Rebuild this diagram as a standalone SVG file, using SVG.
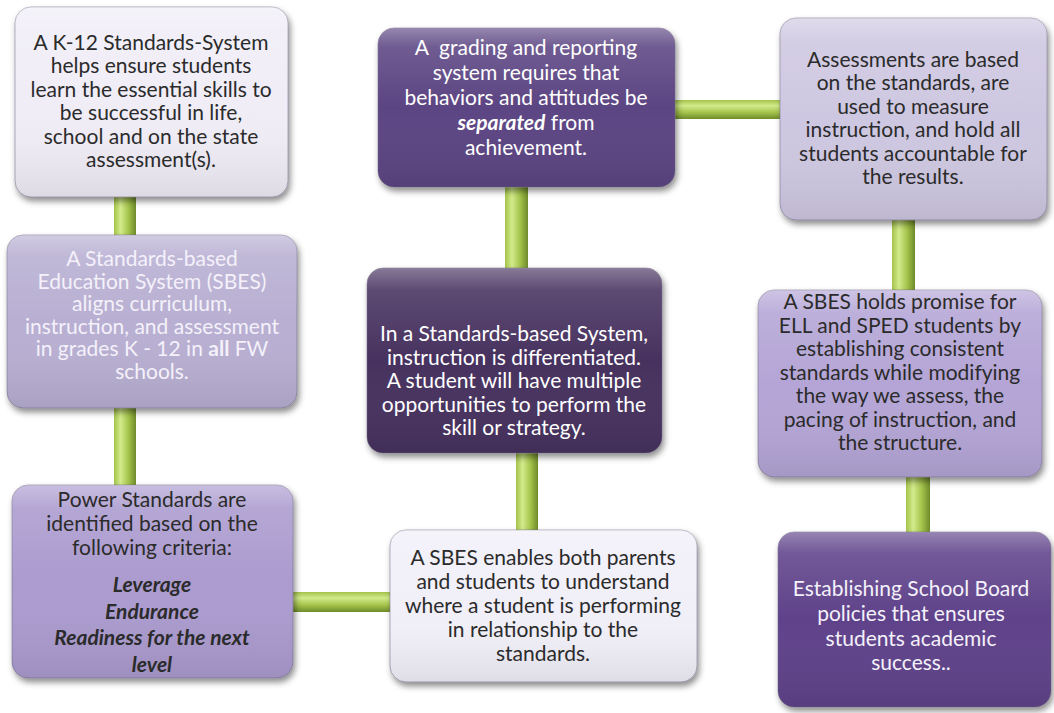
<svg xmlns="http://www.w3.org/2000/svg" width="1054" height="713" viewBox="0 0 1054 713">
<defs>
<linearGradient id="gv" x1="0" y1="0" x2="1" y2="0">
<stop offset="0" stop-color="#a3c34a"/><stop offset="0.3" stop-color="#d3eb8c"/><stop offset="0.65" stop-color="#a5c54c"/><stop offset="1" stop-color="#6e8b2b"/>
</linearGradient>
<linearGradient id="gh" x1="0" y1="0" x2="0" y2="1">
<stop offset="0" stop-color="#a3c34a"/><stop offset="0.3" stop-color="#d3eb8c"/><stop offset="0.65" stop-color="#a5c54c"/><stop offset="1" stop-color="#6e8b2b"/>
</linearGradient>
<linearGradient id="gloss" x1="0" y1="0" x2="0" y2="1">
<stop offset="0" stop-color="#ffffff" stop-opacity="0.35"/><stop offset="0.12" stop-color="#ffffff" stop-opacity="0.12"/><stop offset="0.5" stop-color="#ffffff" stop-opacity="0"/><stop offset="1" stop-color="#000000" stop-opacity="0.08"/>
</linearGradient>
<filter id="sh" x="-10%" y="-10%" width="125%" height="130%">
<feDropShadow dx="2" dy="4" stdDeviation="3" flood-color="#000" flood-opacity="0.45"/>
</filter>
</defs>
<style>
.box{filter:url(#sh);stroke:#6d6680;stroke-width:1;stroke-opacity:0.5}
.gl{fill:url(#gloss)}
text{font-family:Lato,"Liberation Sans",sans-serif;font-size:21px;text-anchor:middle}
.dk{fill:#2b2b2b}
.wt{fill:#ffffff}
.pl{fill:#f4f1fa}
</style>
<rect width="1054" height="713" fill="#ffffff"/>
<g id="connectors">
<rect x="114" y="190" width="22" height="50" fill="url(#gv)"/>
<rect x="114" y="400" width="22" height="90" fill="url(#gv)"/>
<rect x="288" y="592" width="106" height="20" fill="url(#gh)"/>
<rect x="516" y="448" width="22" height="86" fill="url(#gv)"/>
<rect x="505" y="182" width="23" height="90" fill="url(#gv)"/>
<rect x="670" y="100" width="114" height="19" fill="url(#gh)"/>
<rect x="892" y="214" width="23" height="80" fill="url(#gv)"/>
<rect x="906" y="470" width="24" height="66" fill="url(#gv)"/>
</g>
<g id="n1">
<rect class="box" x="15" y="7" width="273" height="190" rx="16" fill="#f0edf7"/>
<rect class="gl" x="15" y="7" width="273" height="190" rx="16"/>
<text class="dk" font-size="21.4"><tspan x="151" y="50">A K-12 Standards-System</tspan><tspan x="151" y="73.4">helps ensure students</tspan><tspan x="151" y="96.8">learn the essential skills to</tspan><tspan x="151" y="120.2">be successful in life,</tspan><tspan x="151" y="143.6">school and on the state</tspan><tspan x="151" y="167">assessment(s).</tspan></text>
</g>
<g id="n2">
<rect class="box" x="7" y="235" width="290" height="173" rx="16" fill="#b8afd2"/>
<rect class="gl" x="7" y="235" width="290" height="173" rx="16"/>
<text class="pl" font-size="21"><tspan x="152" y="266">A Standards-based</tspan><tspan x="152" y="288.6">Education System (SBES)</tspan><tspan x="152" y="311.2">aligns curriculum,</tspan><tspan x="152" y="333.8">instruction, and assessment</tspan><tspan x="152" y="356.4">in grades K - 12 in <tspan font-weight="bold">all</tspan> FW</tspan><tspan x="152" y="379">schools.</tspan></text>
</g>
<g id="n3">
<rect class="box" x="12" y="485" width="281" height="193" rx="16" fill="#ab9bcf"/>
<rect class="gl" x="12" y="485" width="281" height="193" rx="16"/>
<text class="dk" font-size="21.3"><tspan x="152" y="507">Power Standards are</tspan><tspan x="152" y="531">identified based on the</tspan><tspan x="152" y="555">following criteria:</tspan></text>
<text class="dk" font-size="23" font-weight="bold" font-style="italic"><tspan x="152" y="592">Leverage</tspan><tspan x="152" y="618.5">Endurance</tspan><tspan x="152" y="645">Readiness for the next</tspan><tspan x="152" y="671.5">level</tspan></text>
</g>
<g id="n4">
<rect class="box" x="390" y="530" width="307" height="152" rx="16" fill="#f1eff8"/>
<rect class="gl" x="390" y="530" width="307" height="152" rx="16"/>
<text class="dk" font-size="21.3"><tspan x="543" y="565">A SBES enables both parents</tspan><tspan x="543" y="589">and students to understand</tspan><tspan x="543" y="613">where a student is performing</tspan><tspan x="543" y="637">in relationship to the</tspan><tspan x="543" y="661">standards.</tspan></text>
</g>
<g id="n5">
<rect class="box" x="367" y="268" width="295" height="185" rx="16" fill="#46315f"/>
<rect class="gl" x="367" y="268" width="295" height="185" rx="16"/>
<text class="wt" font-size="21.8"><tspan x="514" y="341">In a Standards-based System,</tspan><tspan x="514" y="364.5">instruction is differentiated.</tspan><tspan x="514" y="388">A student will have multiple</tspan><tspan x="514" y="411.5">opportunities to perform the</tspan><tspan x="514" y="435">skill or strategy.</tspan></text>
</g>
<g id="n6">
<rect class="box" x="378" y="28" width="297" height="159" rx="16" fill="#5c4483"/>
<rect class="gl" x="378" y="28" width="297" height="159" rx="16"/>
<text class="wt" font-size="22.8"><tspan x="526" y="55" style="white-space:pre">A  grading and reporting</tspan><tspan x="526" y="80">system requires that</tspan><tspan x="526" y="105">behaviors and attitudes be</tspan><tspan x="526" y="130"><tspan font-weight="bold" font-style="italic">separated</tspan> from</tspan><tspan x="526" y="155">achievement.</tspan></text>
</g>
<g id="n7">
<rect class="box" x="780" y="18" width="267" height="202" rx="16" fill="#cec7e1"/>
<rect class="gl" x="780" y="18" width="267" height="202" rx="16"/>
<text class="dk" font-size="21.8"><tspan x="913" y="67">Assessments are based</tspan><tspan x="913" y="90.4">on the standards, are</tspan><tspan x="913" y="113.8">used to measure</tspan><tspan x="913" y="137.2">instruction, and hold all</tspan><tspan x="913" y="160.6">students accountable for</tspan><tspan x="913" y="184">the results.</tspan></text>
</g>
<g id="n8">
<rect class="box" x="758" y="290" width="284" height="187" rx="16" fill="#b4a5d6"/>
<rect class="gl" x="758" y="290" width="284" height="187" rx="16"/>
<text class="dk" font-size="21.4"><tspan x="900" y="309">A SBES holds promise for</tspan><tspan x="900" y="332.5">ELL and SPED students by</tspan><tspan x="900" y="356">establishing consistent</tspan><tspan x="900" y="379.5">standards while modifying</tspan><tspan x="900" y="403">the way we assess, the</tspan><tspan x="900" y="426.5">pacing of instruction, and</tspan><tspan x="900" y="450">the structure.</tspan></text>
</g>
<g id="n9">
<rect class="box" x="778" y="532" width="273" height="175" rx="16" fill="#5e428a"/>
<rect class="gl" x="778" y="532" width="273" height="175" rx="16"/>
<text class="pl" font-size="20.8"><tspan x="911" y="596">Establishing School Board</tspan><tspan x="911" y="621">policies that ensures</tspan><tspan x="911" y="646">students academic</tspan><tspan x="911" y="670">success..</tspan></text>
</g>
</svg>
